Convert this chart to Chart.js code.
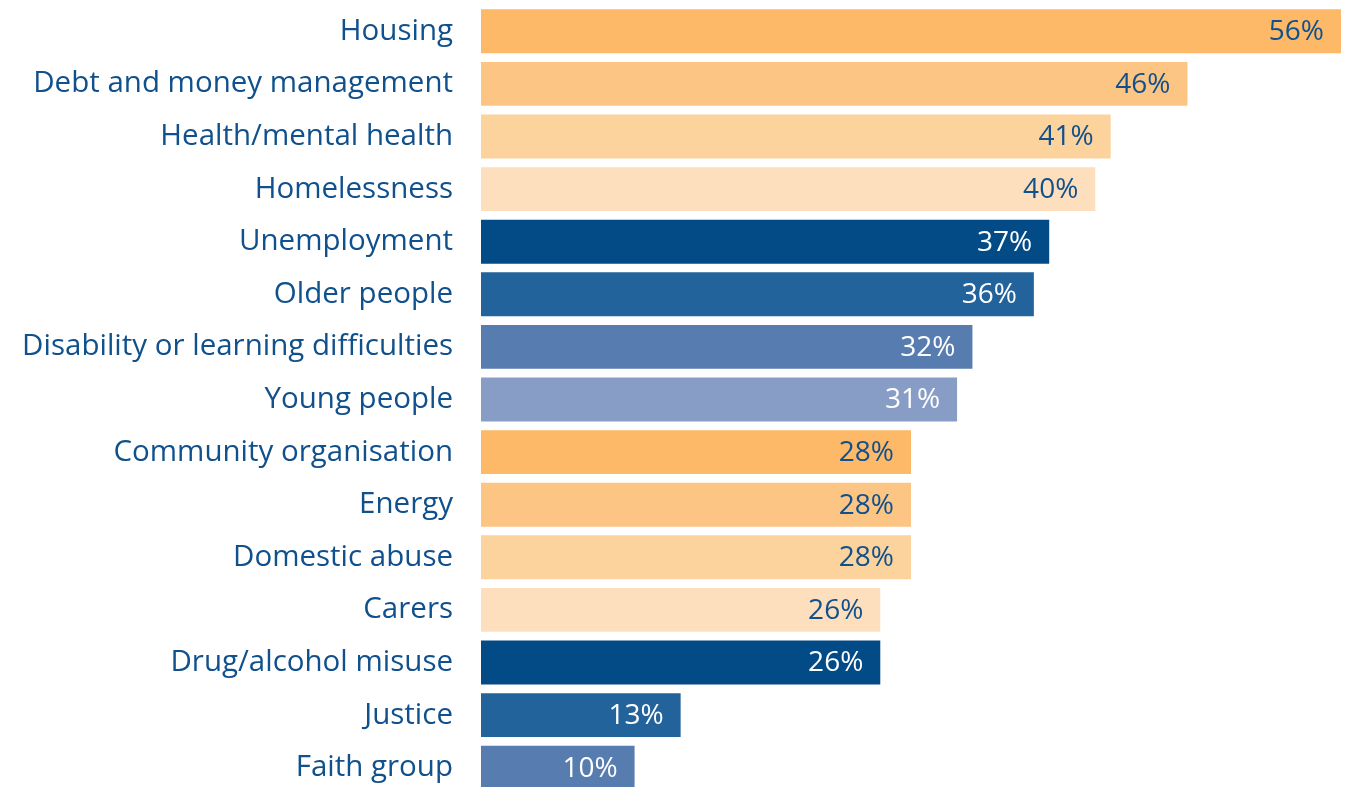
<!DOCTYPE html>
<html>
<head>
<meta charset="utf-8">
<script src="https://cdn.jsdelivr.net/npm/chart.js@4/dist/chart.umd.min.js"></script>
<style>
  html, body { margin: 0; padding: 0; background: #ffffff; overflow: hidden; }
  #wrap { position: absolute; left: 0; top: 0; width: 1358px; height: 794px; }
</style>
</head>
<body>
<div id="wrap"><canvas id="c"></canvas></div>
<script>
const categories = [
  "Housing", "Debt and money management", "Health/mental health", "Homelessness",
  "Unemployment", "Older people", "Disability or learning difficulties", "Young people",
  "Community organisation", "Energy", "Domestic abuse", "Carers",
  "Drug/alcohol misuse", "Justice", "Faith group"
];
const values = [56, 46, 41, 40, 37, 36, 32, 31, 28, 28, 28, 26, 26, 13, 10];
const valueLabels = ["56%", "46%", "41%", "40%", "37%", "36%", "32%", "31%", "28%", "28%", "28%", "26%", "26%", "13%", "10%"];
const barColors = [
  "#FDB968", "#FCC584", "#FCD29D", "#FDDFBD",
  "#024B86", "#23639B", "#577CAF", "#879DC6",
  "#FDB968", "#FCC584", "#FCD29D", "#FDDFBD",
  "#024B86", "#23639B", "#577CAF"
];
const labelColors = [
  "#10508C", "#10508C", "#10508C", "#10508C",
  "#FFFFFF", "#FFFFFF", "#FFFFFF", "#FFFFFF",
  "#10508C", "#10508C", "#10508C", "#10508C",
  "#FFFFFF", "#FFFFFF", "#FFFFFF"
];

const FONT = "'Open Sans', 'Noto Sans', sans-serif";
const TEXT = "#10508C";

const valueLabelPlugin = {
  id: 'valueLabels',
  afterDatasetsDraw(chart) {
    const ctx = chart.ctx;
    const meta = chart.getDatasetMeta(0);
    ctx.save();
    ctx.font = "28px " + FONT;
    ctx.textAlign = "right";
    ctx.textBaseline = "middle";
    meta.data.forEach((bar, i) => {
      ctx.fillStyle = labelColors[i];
      ctx.fillText(valueLabels[i], bar.x - 17, bar.y + 1);
    });
    ctx.restore();
  }
};

new Chart(document.getElementById('c'), {
  type: 'bar',
  data: {
    labels: categories,
    datasets: [{
      data: values,
      backgroundColor: barColors,
      borderWidth: 0,
      categoryPercentage: 1.0,
      barPercentage: 0.835
    }]
  },
  options: {
    indexAxis: 'y',
    responsive: true,
    maintainAspectRatio: false,
    animation: false,
    layout: { padding: { top: 5, bottom: 0, left: 0, right: 17 } },
    plugins: { legend: { display: false }, tooltip: { enabled: false } },
    scales: {
      x: { display: false, min: 0, max: 56 },
      y: {
        grid: { display: false, drawTicks: false },
        border: { display: false },
        ticks: {
          color: TEXT,
          font: { family: FONT, size: 29.5 },
          padding: 28,
          autoSkip: false
        },
        afterFit(scale) {
          scale.width = 481;
          scale.paddingTop = 0;
          scale.paddingBottom = 0;
        }
      }
    }
  },
  plugins: [valueLabelPlugin]
});
</script>
</body>
</html>
